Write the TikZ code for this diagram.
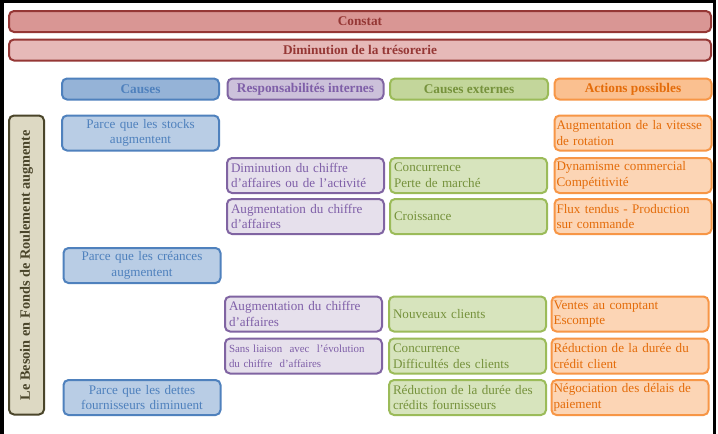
\documentclass[tikz,border=0pt]{standalone}
\usepackage{fontspec}
\setmainfont{Liberation Serif}
\begin{document}
\begin{tikzpicture}[x=1pt,y=-1pt]
\definecolor{redB}{HTML}{953735}
\definecolor{redF1}{HTML}{D99694}
\definecolor{redF2}{HTML}{E6B9B8}
\definecolor{bluB}{HTML}{4F81BD}
\definecolor{bluH}{HTML}{95B3D7}
\definecolor{bluF}{HTML}{B9CDE5}
\definecolor{bluT}{HTML}{4F81BD}
\definecolor{vioB}{HTML}{8064A2}
\definecolor{vioH}{HTML}{CCC1DA}
\definecolor{vioF}{HTML}{E6E0EC}
\definecolor{vioT}{HTML}{7F5FA8}
\definecolor{grnB}{HTML}{9BBB59}
\definecolor{grnH}{HTML}{C3D69B}
\definecolor{grnF}{HTML}{D7E4BD}
\definecolor{grnT}{HTML}{76923C}
\definecolor{orgB}{HTML}{F79646}
\definecolor{orgH}{HTML}{FAC090}
\definecolor{orgF}{HTML}{FCD5B5}
\definecolor{orgT}{HTML}{E46C0A}
\definecolor{olvB}{HTML}{4A452A}
\definecolor{olvF}{HTML}{DDD9C3}
\tikzset{
  base/.style={draw, line width=2pt, rounded corners=5pt, anchor=north west,
    inner xsep=5pt, inner ysep=0pt, font=\fontsize{13.1}{15.7}\selectfont},
  hdr/.style={base, minimum height=21pt, font=\bfseries\fontsize{13.3}{15.7}\selectfont},
  topbar/.style={hdr, draw=redB, text=redB, minimum width=702pt},
  cause/.style={base, draw=bluB, fill=bluF, text=bluT, minimum width=157pt, minimum height=35pt, text width=147pt, align=center},
  resp/.style={base, draw=vioB, fill=vioF, text=vioT, minimum width=157pt, minimum height=35pt, text width=149pt, align=left, inner xsep=4pt},
  ext/.style={base, draw=grnB, fill=grnF, text=grnT, minimum width=157pt, minimum height=35pt, text width=149pt, align=left, inner xsep=4pt},
  act/.style={base, draw=orgB, fill=orgF, text=orgT, minimum width=157pt, minimum height=35pt, text width=153pt, align=left, inner xsep=2pt},
}
\useasboundingbox (0,0) rectangle (718,434);
\fill[white] (0,0) rectangle (718,434);
% frame
\fill[black] (0,0) rectangle (715,2.5);
\fill[black] (0,0) rectangle (3.5,434);
\fill[black] (713,0) rectangle (716,434);
% top bars
\node[topbar, fill=redF1] (constat) at (8,10) {\makebox[682pt]{Constat}};
\node[topbar, fill=redF2] (dimin) at (8,38.5) {\makebox[682pt]{Diminution de la trésorerie}};
% headers
\node[hdr, draw=bluB, fill=bluH, text=bluT, minimum width=157pt] (hcause) at (61,77.5) {\makebox[147pt]{Causes}};
\node[hdr, draw=vioB, fill=vioH, text=vioT, minimum width=156pt] (hresp) at (226.5,77.5) {\makebox[146pt]{Responsabilités internes}};
\node[hdr, draw=grnB, fill=grnH, text=grnT, minimum width=158pt] (hext) at (389,77.5) {\makebox[148pt]{Causes externes}};
\node[hdr, draw=orgB, fill=orgH, text=orgT, minimum width=157pt] (hact) at (553.5,77.5) {\makebox[147pt]{Actions possibles}};
% vertical box
\node[base, draw=olvB, fill=olvF, minimum width=35pt, minimum height=299pt] (wcr) at (8,114.5) {};
\node[rotate=90, text=olvB, font=\bfseries\fontsize{14.3}{16}\selectfont] (wcrt) at (wcr.center) {Le Besoin en Fonds de Roulement augmente};
% row 1
\node[cause] (c1) at (61,114.5) {Parce que les stocks\\augmentent};
\node[act] (a1) at (553.5,114.5) {Augmentation de la vitesse\\de rotation};
% row 2
\node[resp] (r2) at (226,157) {Diminution du chiffre\\d’affaires ou de l’activité};
\node[ext] (e2) at (389,157) {Concurrence\\Perte de marché};
\node[act] (a2) at (553.5,157) {Dynamisme commercial\\Compétitivité};
% row 3
\node[resp] (r3) at (226,198) {Augmentation du chiffre\\d’affaires};
\node[ext] (e3) at (389,198) {Croissance};
\node[act] (a3) at (553.5,198) {Flux tendus - Production\\sur commande};
% row 4
\node[cause] (c4) at (62.5,247) {Parce que les créances\\augmentent};
% row 5
\node[resp] (r5) at (224,295.5) {Augmentation du chiffre\\d’affaires};
\node[ext] (e5) at (388,295.5) {Nouveaux clients};
\node[act] (a5) at (550.5,295.5) {Ventes au comptant\\Escompte};
% row 6
\node[resp, font=\fontsize{10.9}{15}\selectfont] (r6) at (224,337.5) {Sans liaison~ avec~ l’évolution\\du chiffre~ d’affaires};
\node[ext] (e6) at (388,337.5) {Concurrence\\Difficultés des clients};
\node[act] (a6) at (550.5,337.5) {Réduction de la durée du\\crédit client};
% row 7
\node[cause] (c7) at (62.5,379) {Parce que les dettes\\fournisseurs diminuent};
\node[ext] (e7) at (388,379) {Réduction de la durée des\\crédits fournisseurs};
\node[act] (a7) at (550.5,379) {Négociation des délais de\\paiement};
\end{tikzpicture}
\end{document}
